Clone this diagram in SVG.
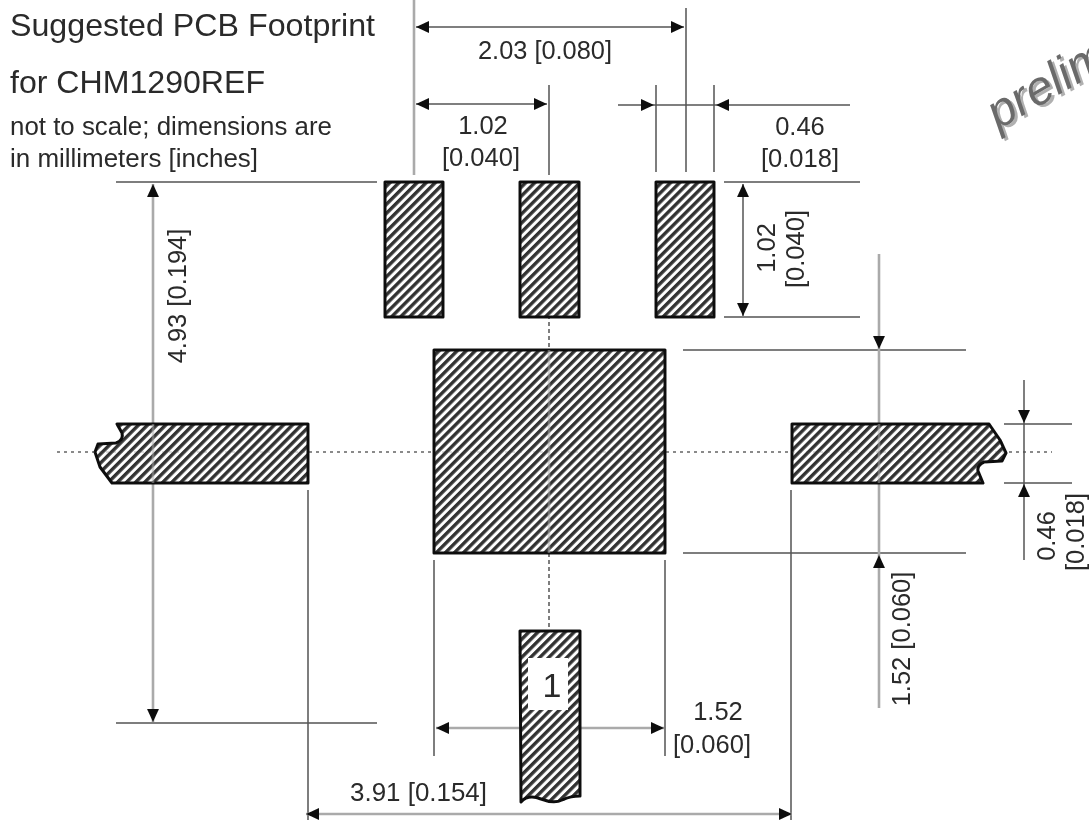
<svg xmlns="http://www.w3.org/2000/svg" width="1089" height="821" viewBox="0 0 1089 821">
<style>
text{font-family:"Liberation Sans",Arial,sans-serif;fill:#2a2a2a}
.t{font-size:32px}.s{font-size:25.5px}.n{font-size:25.5px}.m{text-anchor:middle}
.thin{stroke:#555;stroke-width:1.5;fill:none}
.thick{stroke:#aaa;stroke-width:2.6;fill:none}
.dot{stroke:#999;stroke-width:2;stroke-dasharray:3 4;fill:none}
.dash{stroke:#555;stroke-width:1.5;stroke-dasharray:4 3;fill:none}
.pad{fill:url(#hatch);stroke:#111;stroke-width:3;stroke-linejoin:round}
.wm{font-size:48px;font-style:italic}
</style>
<defs>
<pattern id="hatch" width="6.4" height="6.4" patternUnits="userSpaceOnUse" patternTransform="rotate(-45)">
<rect width="6.4" height="6.4" fill="#fff"/><rect width="6.4" height="3.4" fill="#333"/>
</pattern>
<marker id="a" viewBox="0 0 12 12" refX="12" refY="6" markerWidth="13" markerHeight="13" markerUnits="userSpaceOnUse" orient="auto-start-reverse"><path d="M0 0.5L12 6L0 11.5Z" fill="#111"/></marker>
<filter id="soft" x="0" y="0" width="100%" height="100%"><feGaussianBlur stdDeviation="0.7"/></filter>
</defs>
<rect width="1089" height="821" fill="#fff"/>
<g filter="url(#soft)">
<g id="connectors">
<path class="dot" d="M57 452H1052"/>
<path class="dash" d="M549 182V631"/>
<path class="thick" d="M414 0V175"/>
<path class="thin" d="M686 8V172M549 85V175M656 85V172M714 85V172"/>
<path class="thin" d="M116 182H377M724 182H860M724 317H860M116 723H377M683 350H966M683 553H966M1004 424H1072M1004 483H1072"/>
<path class="thin" d="M434 560V756M665 560V756M308 490V820M791 490V820"/>
<path class="thin" marker-start="url(#a)" marker-end="url(#a)" d="M416 27H684"/>
<path class="thin" marker-start="url(#a)" marker-end="url(#a)" d="M416 104H547"/>
<path class="thin" marker-end="url(#a)" d="M618 105H654"/>
<path class="thin" marker-end="url(#a)" d="M850 105H716"/>
<path class="thin" d="M654 105H716"/>
<path class="thin" marker-start="url(#a)" marker-end="url(#a)" d="M743 184V316"/>
<path class="thick" marker-start="url(#a)" marker-end="url(#a)" d="M153 184V722"/>
<path class="thick" marker-end="url(#a)" d="M879 254V349"/>
<path class="thick" marker-start="url(#a)" d="M879 555V708"/>
<path class="thick" d="M879 349V555"/>
<path class="thin" marker-end="url(#a)" d="M1024 380V423"/>
<path class="thin" marker-start="url(#a)" d="M1024 484V560"/>
<path class="thin" d="M1024 423V484"/>
<path class="thick" marker-start="url(#a)" marker-end="url(#a)" d="M436 728H664"/>
<path class="thick" marker-start="url(#a)" marker-end="url(#a)" d="M306 814H792"/>
</g>
<g id="pad-top-left"><rect class="pad" x="385" y="182" width="58" height="135"/></g>
<g id="pad-top-middle"><rect class="pad" x="520" y="182" width="59" height="135"/></g>
<g id="pad-top-right"><rect class="pad" x="656" y="182" width="58" height="135"/></g>
<g id="pad-center"><rect class="pad" x="434" y="350" width="231" height="203"/></g>
<g id="pad-left"><path class="pad" d="M117 424H308V483H112L100 467L95 452L98 444L116 443Q124 440 122 433Z"/></g>
<g id="pad-right"><path class="pad" d="M792 424H989L1000 440L1006 453L1002 461L984 462Q977 465 978 471L983 483H792Z"/></g>
<g id="pad-bottom"><path class="pad" d="M520 631H580V796Q570 796 562 800T541 799T521 802Z"/>
<rect x="528" y="658" width="40" height="52" fill="#fff"/>
<text x="552" y="697" text-anchor="middle" style="font-size:34px">1</text></g>
<path class="dot" d="M57 452H1052" style="stroke:#444;stroke-width:1.2;opacity:.35"/>
<path class="thick" d="M153 424V483M879 424V483M549 350V553" style="opacity:.5"/>
<g id="labels">
<text class="t" x="10" y="36" textLength="365" lengthAdjust="spacingAndGlyphs">Suggested PCB Footprint</text>
<text class="t" x="10" y="93" textLength="255" lengthAdjust="spacingAndGlyphs">for CHM1290REF</text>
<text class="s" x="10" y="135" textLength="322" lengthAdjust="spacingAndGlyphs">not to scale; dimensions are</text>
<text class="s" x="10" y="167" textLength="248" lengthAdjust="spacingAndGlyphs">in millimeters [inches]</text>
<text class="n" x="478" y="59" textLength="134" lengthAdjust="spacingAndGlyphs">2.03 [0.080]</text>
<text class="n m" x="483" y="134">1.02</text>
<text class="n m" x="481" y="166">[0.040]</text>
<text class="n m" x="800" y="135">0.46</text>
<text class="n m" x="800" y="167">[0.018]</text>
<text class="n m" transform="translate(775 248) rotate(-90)">1.02</text>
<text class="n m" transform="translate(804 249) rotate(-90)">[0.040]</text>
<text class="n m" transform="translate(186 296) rotate(-90)">4.93 [0.194]</text>
<text class="n m" transform="translate(910 639) rotate(-90)">1.52 [0.060]</text>
<text class="n m" transform="translate(1055 536) rotate(-90)">0.46</text>
<text class="n m" transform="translate(1084 532) rotate(-90)">[0.018]</text>
<text class="n m" x="718" y="720">1.52</text>
<text class="n m" x="712" y="753">[0.060]</text>
<text class="n" x="350" y="801" textLength="137" lengthAdjust="spacingAndGlyphs">3.91 [0.154]</text>
<text class="wm" transform="translate(1001 132) rotate(-30)" style="fill:#b0b0b0">prelim</text>
<text class="wm" transform="translate(998 130) rotate(-30)" style="fill:#6a6a6a">prelim</text>
</g>
</g>
</svg>
